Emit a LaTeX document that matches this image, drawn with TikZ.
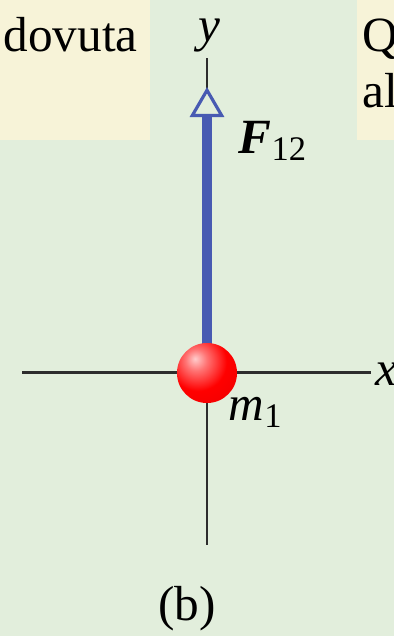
\documentclass[tikz,border=0pt]{standalone}
\definecolor{figBg}{RGB}{226,238,220}
\definecolor{noteBg}{RGB}{247,243,216}
\definecolor{forceBlue}{RGB}{72,90,178}
\definecolor{axisGray}{RGB}{45,45,45}
\usepackage{amsmath}
\usepackage{fontspec}
\setmainfont{Liberation Serif}
\usepackage{tikz}
\usetikzlibrary{arrows.meta,positioning,shadings}

\pgfdeclareradialshading{redball}{\pgfpoint{-10bp}{12bp}}{%
  color(0bp)=(red!20!white); color(9bp)=(red!55!white);
  color(24bp)=(red); color(48bp)=(red!92!black);
  color(70bp)=(red!85!black); color(100bp)=(red!85!black)}

\tikzset{
  axisline/.style={axisGray,line width=0.85pt},
  forcearrow/.style={forceBlue,line width=2.6pt,
    -{Triangle[length=0.30cm,width=0.34cm,line width=0.9pt,fill=figBg]}},
  labeltext/.style={font=\fontsize{14}{16}\selectfont,inner sep=0pt},
}

\begin{document}
\begin{tikzpicture}[x=0.01cm,y=-0.01cm]
        % page, side notes
        \fill[figBg] (0,0) rectangle (394,636);
        \fill[noteBg] (0,0) rectangle (150,140);
        \fill[noteBg] (357,0) rectangle (394,140);
        \useasboundingbox (0,0) rectangle (394,636);
        \node[labeltext,anchor=base west] (noteleft) at (3,51) {dovuta};
        \node[labeltext,anchor=base west] (noteq) at (362,51) {Q};
        \node[labeltext,anchor=base west] (noteal) at (362,107) {al};
        % axes
        \coordinate (ytop) at (207,58);
        \coordinate (ybot) at (207,545);
        \coordinate (xleft) at (22,372);
        \coordinate (xright) at (371,372);
        \draw[axisline] (ytop) -- (ybot);
        \draw[axisline] (xleft) -- (xright);
        \node[labeltext,anchor=base] (ylab) at (209,41) {\textit{y}};
        \node[labeltext,anchor=base west] (xlab) at (375,385) {\textit{x}};
        % force on m1
        \coordinate (ftip) at (207,87);
        \node[circle,minimum size=0.6cm,inner sep=0pt] (mass) at (207,373) {};
        \draw[forcearrow] (mass.center) -- (ftip);
        \node[labeltext,anchor=base west] (flab) at (238,153) {$\textbf{\textit{F}}_{\text{12}}$};
        \shade[shading=redball] (mass.center) circle (0.3cm);
        \node[labeltext,anchor=base west] (mlab) at (228,420) {$\textit{m}_{\text{1}}$};
        \node[labeltext,anchor=base] (caption) at (187,620) {(b)};
      \end{tikzpicture}
\end{document}
